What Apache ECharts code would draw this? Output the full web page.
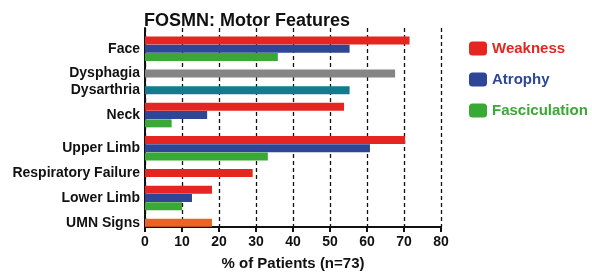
<!DOCTYPE html>
<html>
<head>
<meta charset="utf-8">
<script src="https://cdn.jsdelivr.net/npm/echarts@6/dist/echarts.min.js"></script>
<style>
  html, body { margin: 0; padding: 0; background: #fff; }
  #chart { width: 592px; height: 273px; }
</style>
</head>
<body>
<div id="chart"></div>
<script>
// feature groups, top to bottom
const features = ["Face", "Dysphagia", "Dysarthria", "Neck", "Upper Limb", "Respiratory Failure", "Lower Limb", "UMN Signs"];
// % of patients, null = not reported for that feature
const weakness      = [71.5, null, null, 53.8, 70.3, 29.1, 18.1, null];
const atrophy       = [55.3, null, null, 16.8, 60.8, null, 12.7, null];
const fasciculation = [35.9, null, null,  7.2, 33.2, null, 10.0, null];
const dysphagia     = [null, 67.6, null, null, null, null, null, null];
const dysarthria    = [null, null, 55.3, null, null, null, null, null];
const umnSigns      = [null, null, null, null, null, null, null, 18.1];
const xTicks = [0, 10, 20, 30, 40, 50, 60, 70, 80];

const FONT = "'Liberation Sans', Arial, sans-serif";
const seriesDefs = [
  { name: "Weakness", data: weakness, color: "#e52520" },
  { name: "Atrophy", data: atrophy, color: "#2d4796" },
  { name: "Fasciculation", data: fasciculation, color: "#3aa835" },
  { name: "Dysphagia", data: dysphagia, color: "#858585" },
  { name: "Dysarthria", data: dysarthria, color: "#137b8e" },
  { name: "UMN Signs", data: umnSigns, color: "#ec6421" }
];

// one axis slot per bar, blank slot between groups, label on the middle bar
const slotKeys = ["top"], slotLabels = [""];
const slotData = seriesDefs.map(() => [null]);
features.forEach((f, i) => {
  if (i > 0) {
    slotKeys.push("gap" + i); slotLabels.push("");
    slotData.forEach(d => d.push(null));
  }
  const present = seriesDefs.map((s, k) => k).filter(k => seriesDefs[k].data[i] != null);
  present.forEach((k, j) => {
    slotKeys.push(f + "-" + k);
    slotLabels.push(j === Math.floor((present.length - 1) / 2) ? f : "");
    slotData.forEach((d, m) => d.push(m === k ? seriesDefs[k].data[i] : null));
  });
});

const chart = echarts.init(document.getElementById("chart"));
chart.setOption({
  animation: false,
  textStyle: { fontFamily: FONT },
  title: {
    text: "FOSMN: Motor Features",
    left: 139, top: 7,
    textStyle: { fontSize: 18, fontWeight: "bold", color: "#111", fontFamily: FONT }
  },
  legend: {
    orient: "vertical",
    left: 464, top: 36,
    itemWidth: 18, itemHeight: 14, itemGap: 16,
    icon: "roundRect",
    data: seriesDefs.slice(0, 3).map(s => ({ name: s.name, textStyle: { color: s.color } })),
    textStyle: { fontSize: 15, fontWeight: "bold", fontFamily: FONT }
  },
  grid: { left: 145, right: 151, top: 28, bottom: 46, outerBoundsMode: "none", containLabel: false },
  xAxis: {
    type: "value",
    min: xTicks[0], max: xTicks[xTicks.length - 1], interval: 10,
    name: "% of Patients (n=73)",
    nameLocation: "middle", nameGap: 29,
    nameTextStyle: { fontSize: 15, fontWeight: "bold", color: "#111", fontFamily: FONT },
    axisLine: { show: true, lineStyle: { color: "#111", width: 2 } },
    axisTick: { show: true, length: 5, lineStyle: { color: "#111", width: 2 } },
    axisLabel: { fontSize: 14, fontWeight: "bold", color: "#111", margin: 8, fontFamily: FONT },
    splitLine: { show: true, lineStyle: { color: "#111", type: [4, 3], width: 1.3 } }
  },
  yAxis: {
    type: "category",
    inverse: true,
    data: slotKeys,
    axisLine: { show: true, lineStyle: { color: "#111", width: 2 } },
    axisTick: { show: false },
    axisLabel: {
      interval: 0, margin: 5,
      fontSize: 14, fontWeight: "bold", color: "#111", fontFamily: FONT,
      formatter: (v, i) => slotLabels[i]
    }
  },
  series: seriesDefs.map((s, k) => ({
    name: s.name,
    type: "bar",
    data: slotData[k],
    barWidth: 8,
    barGap: "-100%",
    itemStyle: { color: s.color }
  }))
});
</script>
</body>
</html>
